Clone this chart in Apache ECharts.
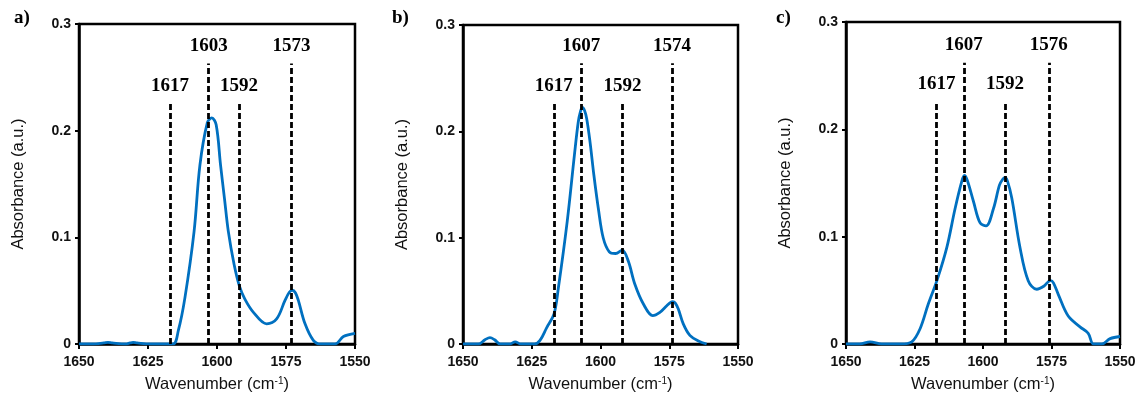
<!DOCTYPE html>
<html>
<head>
<meta charset="utf-8">
<script src="https://cdn.jsdelivr.net/npm/echarts@6/dist/echarts.min.js"></script>
<style>
  html, body { margin: 0; padding: 0; background: #fff; }
  #chart { width: 1139px; height: 398px; }
</style>
</head>
<body>
<div id="chart"></div>
<script>
// panel a
const waveA = [1650, 1645, 1641, 1639.5, 1638, 1633, 1631.5, 1630.4, 1629, 1624, 1616, 1614.0, 1611.6, 1608.3, 1606.2, 1603.5, 1601.9, 1600.3, 1598.7, 1597.3, 1595.9, 1593.8, 1591.9, 1589.9, 1586.8, 1582.0, 1578.4, 1575.4, 1573.8, 1572.7, 1571.6, 1570.5, 1568.1, 1565.1, 1562.5, 1557.2, 1554.2, 1550];
const absA  = [0, 0, 0.001, 0.0015, 0.001, 0, 0.001, 0.0015, 0.001, 0, 0, 0.0127, 0.0437, 0.1056, 0.1675, 0.2075, 0.212, 0.2055, 0.1675, 0.1366, 0.1056, 0.0746, 0.0545, 0.0421, 0.0297, 0.0189, 0.0235, 0.0406, 0.0485, 0.0504, 0.048, 0.0406, 0.0189, 0.0034, 0, 0, 0.007, 0.010];
const peaksA = [1617, 1603, 1592, 1573];
const peakTopsA = [0.225, 0.263, 0.225, 0.263];

// panel b
const waveB = [1650, 1644.4, 1642, 1640.2, 1638.5, 1636.5, 1633, 1631, 1629, 1624, 1622, 1619.6, 1616.9, 1615.3, 1612.1, 1609.5, 1608.1, 1607.3, 1606.6, 1605.8, 1605.0, 1603.8, 1602.4, 1600.8, 1599.0, 1596.8, 1594.5, 1592.1, 1589.9, 1587.5, 1584.4, 1581.0, 1578.4, 1575.9, 1574.5, 1573.7, 1572.8, 1571.7, 1569.9, 1567.5, 1564.4, 1561.4];
const absB  = [0, 0, 0.004, 0.006, 0.004, 0, 0, 0.002, 0, 0, 0.0034, 0.0152, 0.0283, 0.0531, 0.1153, 0.1774, 0.2085, 0.2185, 0.2225, 0.2195, 0.2116, 0.1899, 0.1587, 0.1277, 0.0997, 0.0867, 0.0851, 0.0883, 0.078, 0.0562, 0.0376, 0.0267, 0.0298, 0.036, 0.0392, 0.0398, 0.0385, 0.0329, 0.0189, 0.0081, 0.0028, 0];
const peaksB = [1617, 1607, 1592, 1574];
const peakTopsB = [0.226, 0.264, 0.226, 0.264];

// panel c
const waveC = [1650, 1645, 1641.2, 1637, 1630, 1626, 1623, 1620, 1616.7, 1613.2, 1610.2, 1607.8, 1606.8, 1605.8, 1603.5, 1601.1, 1598.9, 1596.2, 1594, 1592.8, 1592, 1591.1, 1589.5, 1586.5, 1583.5, 1580.4, 1577.7, 1576.2, 1575.3, 1574.3, 1572.5, 1568.9, 1564.6, 1561.6, 1559.7, 1556.6, 1553.6, 1550];
const absC  = [0, 0, 0.002, 0, 0, 0.002, 0.014, 0.037, 0.060, 0.090, 0.126, 0.151, 0.157, 0.153, 0.133, 0.113, 0.110, 0.126, 0.148, 0.1535, 0.155, 0.152, 0.136, 0.090, 0.059, 0.051, 0.054, 0.058, 0.059, 0.057, 0.046, 0.026, 0.016, 0.010, 0, 0, 0.005, 0.007];
const peaksC = [1617, 1607, 1592, 1576];
const peakTopsC = [0.2255, 0.262, 0.2255, 0.262];

const panelLetters = ["a)", "b)", "c)"];
const xTicks = { min: 1550, max: 1650, interval: 25 };
const yTicks = { min: 0, max: 0.3, interval: 0.1 };

const SANS = '"Liberation Sans", Arial, sans-serif';
const SERIF = '"Liberation Serif", "Times New Roman", serif';
const BLUE = "#0070c0";

const grids = [
  { left: 79, top: 24, width: 276, height: 323 },
  { left: 463, top: 25, width: 275, height: 322 },
  { left: 846, top: 22, width: 274, height: 325 },
];
const letterPos = [{ left: 9, top: 4 }, { left: 387, top: 4 }, { left: 771, top: 4 }];

const panels = [
  { wave: waveA, abs: absA, peaks: peaksA, tops: peakTopsA },
  { wave: waveB, abs: absB, peaks: peaksB, tops: peakTopsB },
  { wave: waveC, abs: absC, peaks: peaksC, tops: peakTopsC },
];

const chart = echarts.init(document.getElementById("chart"), null, { renderer: "canvas" });

chart.setOption({
  animation: false,
  title: panelLetters.map((t, i) => ({
    text: t,
    left: letterPos[i].left,
    top: letterPos[i].top,
    textStyle: { fontFamily: SERIF, fontWeight: "bold", fontSize: 19, color: "#000" },
  })),
  grid: grids.map((g) => ({ ...g, show: true, borderColor: "#000", borderWidth: 2.5, backgroundColor: "transparent" })),
  xAxis: grids.map((g, i) => ({
    gridIndex: i,
    type: "value",
    inverse: true,
    ...xTicks,
    z: 3,
    name: "Wavenumber (cm{s|-1})",
    nameLocation: "middle",
    nameGap: 32,
    nameTextStyle: {
      fontFamily: SANS, fontSize: 16.5, color: "#111",
      rich: { s: { fontFamily: SANS, fontSize: 10, color: "#111", verticalAlign: "top" } },
    },
    axisLine: { lineStyle: { color: "#000", width: 2.5 } },
    axisTick: { inside: false, length: 5, lineStyle: { color: "#000", width: 2 } },
    axisLabel: { margin: 11, fontFamily: SANS, fontWeight: "bold", fontSize: 14, color: "#111", formatter: (v) => String(v) },
    splitLine: { show: false },
  })),
  yAxis: grids.map((g, i) => ({
    gridIndex: i,
    type: "value",
    ...yTicks,
    z: 3,
    name: "Absorbance (a.u.)",
    nameLocation: "middle",
    nameRotate: 90,
    nameGap: 52,
    nameTextStyle: { fontFamily: SANS, fontSize: 16.5, color: "#111" },
    axisLine: { lineStyle: { color: "#000", width: 2.5 } },
    axisTick: { inside: false, length: 4, lineStyle: { color: "#000", width: 2 } },
    axisLabel: { margin: 8, fontFamily: SANS, fontWeight: "bold", fontSize: 14, color: "#111" },
    splitLine: { show: false },
  })),
  series: panels.map((p, i) => ({
    type: "line",
    xAxisIndex: i,
    yAxisIndex: i,
    data: p.wave.map((w, k) => [w, p.abs[k]]),
    showSymbol: false,
    smooth: 0.35,
    clip: true,
    lineStyle: { color: BLUE, width: 2.8 },
    markLine: {
      silent: true,
      symbol: "none",
      animation: false,
      lineStyle: { color: "#000", width: 2.8, type: [6, 3] },
      label: {
        show: true,
        position: "end",
        distance: 8,
        formatter: "{b}",
        fontFamily: SERIF,
        fontWeight: "bold",
        fontSize: 19,
        color: "#000",
      },
      data: p.peaks.map((pk, k) => [
        { coord: [pk, 0], name: String(pk) },
        { coord: [pk, p.tops[k]] },
      ]),
    },
  })),
});
</script>
</body>
</html>
